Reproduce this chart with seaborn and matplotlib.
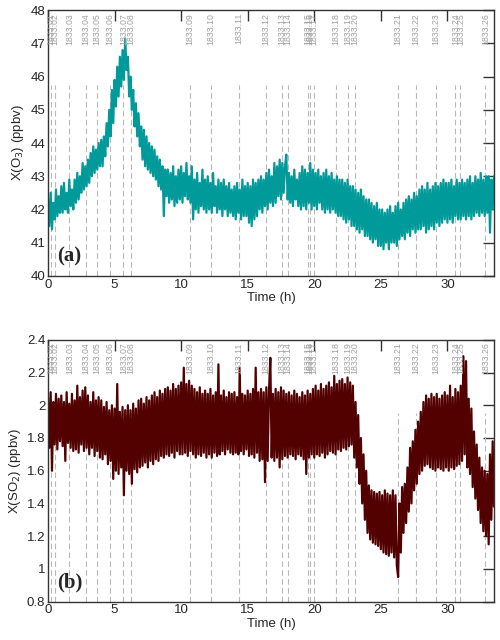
import numpy as np
import pandas as pd
import seaborn as sns
import matplotlib.pyplot as plt
from matplotlib.ticker import FuncFormatter

# O3 (ppbv), one value every 0.1 h
o3 = [
    42.3, 41.5, 42.5, 41.4, 42.2, 41.7, 42.6, 41.8, 42.4, 41.9,
    42.7, 41.9, 42.8, 42.0, 42.5, 41.9, 42.9, 42.1, 42.6, 42.0,
    42.9, 42.2, 43.1, 42.3, 43.0, 42.5, 43.4, 42.6, 43.3, 42.7,
    43.5, 42.8, 43.7, 43.0, 43.9, 43.1, 43.8, 43.2, 44.0, 43.3,
    44.1, 43.3, 44.2, 43.6, 44.6, 43.9, 45.0, 44.2, 45.6, 44.6,
    45.9, 45.1, 46.3, 45.4, 46.6, 45.7, 46.8, 45.9, 47.15, 46.2,
    46.6, 45.4, 46.0, 45.0, 45.6, 44.5, 45.2, 44.2, 44.9, 43.9,
    44.5, 43.5, 44.4, 43.3, 44.2, 43.2, 44.0, 43.1, 43.9, 43.0,
    43.8, 42.9, 43.6, 42.7, 43.5, 42.6, 43.3, 41.8, 43.2, 42.4,
    43.2, 42.2, 43.1, 42.3, 43.3, 42.1, 43.0, 42.2, 43.2, 42.3,
    43.3, 42.2, 43.1, 42.4, 43.4, 42.3, 43.0, 42.2, 43.3, 41.7,
    42.9, 42.0, 43.1, 41.9, 42.8, 42.1, 43.2, 42.0, 42.9, 41.9,
    43.0, 42.0, 42.8, 41.9, 43.1, 42.1, 42.7, 41.9, 42.9, 42.0,
    42.8, 41.8, 42.9, 42.0, 42.7, 41.8, 42.8, 41.9, 42.6, 41.8,
    42.7, 41.7, 42.8, 41.9, 42.6, 41.7, 42.9, 41.8, 42.7, 41.8,
    42.8, 41.6, 42.7, 41.5, 42.9, 41.7, 42.8, 41.8, 42.9, 42.0,
    43.0, 41.9, 42.9, 42.1, 43.1, 42.0, 43.2, 42.2, 43.0, 42.1,
    43.4, 42.2, 43.3, 42.4, 43.5, 42.3, 43.4, 42.5, 43.3, 43.65,
    42.3, 43.1, 42.2, 43.0, 42.1, 43.2, 42.3, 42.9, 42.1, 43.1,
    42.0, 43.3, 42.1, 43.2, 42.0, 43.1, 42.2, 43.4, 42.0, 43.2,
    42.1, 43.1, 42.0, 43.2, 42.2, 43.0, 42.0, 43.1, 41.9, 43.2,
    42.0, 43.0, 41.9, 43.1, 42.0, 42.9, 41.9, 43.0, 41.8, 42.9,
    41.8, 42.9, 41.7, 42.8, 41.6, 42.9, 41.7, 42.7, 41.5, 42.7,
    41.5, 42.6, 41.4, 42.5, 41.3, 42.6, 41.4, 42.4, 41.2, 42.3,
    41.2, 42.3, 41.1, 42.2, 41.0, 42.1, 41.1, 42.2, 40.9, 42.0,
    40.9, 42.0, 40.8, 41.9, 41.0, 42.0, 40.8, 42.1, 41.0, 41.9,
    41.0, 42.1, 40.9, 42.2, 41.1, 42.0, 41.2, 42.2, 41.1, 42.3,
    41.3, 42.4, 41.2, 42.3, 41.4, 42.5, 41.3, 42.4, 41.4, 42.6,
    41.4, 42.7, 41.5, 42.6, 41.3, 42.8, 41.4, 42.6, 41.5, 42.7,
    41.4, 42.8, 41.6, 42.7, 41.5, 42.8, 41.6, 42.9, 41.7, 42.8,
    41.6, 42.8, 41.7, 42.9, 41.6, 42.7, 41.8, 42.9, 41.7, 42.8,
    41.7, 42.9, 41.8, 42.8, 41.7, 42.9, 41.8, 43.0, 41.7, 42.8,
    41.8, 43.0, 41.9, 42.9, 41.8, 43.1, 41.9, 42.9, 41.8, 43.0,
    41.9, 43.0, 41.3, 42.9, 42.0, 43.0,
]

# SO2 (ppbv), one value every 0.1 h
so2 = [
    2.05, 1.74, 2.08, 1.60, 2.02, 1.76, 2.07, 1.73, 2.04, 1.78,
    2.06, 1.75, 2.02, 1.66, 2.08, 1.77, 2.01, 1.74, 2.07, 1.72,
    2.03, 1.73, 2.12, 1.71, 2.05, 1.76, 2.09, 1.72, 2.11, 1.74,
    2.06, 1.70, 2.02, 1.74, 2.08, 1.69, 2.03, 1.72, 2.05, 1.68,
    2.03, 1.67, 1.99, 1.70, 2.02, 1.64, 1.97, 1.66, 2.00, 1.55,
    1.98, 1.60, 2.13, 1.58, 1.96, 1.62, 1.99, 1.45, 1.97, 1.60,
    2.00, 1.58, 1.97, 1.52, 2.01, 1.61, 1.98, 1.59, 2.03, 1.62,
    2.04, 1.63, 2.01, 1.65, 2.05, 1.62, 2.03, 1.66, 2.06, 1.64,
    2.08, 1.67, 2.05, 1.66, 2.09, 1.69, 2.07, 1.68, 2.10, 1.70,
    2.11, 1.69, 2.09, 1.71, 2.13, 1.68, 2.10, 1.72, 2.12, 1.70,
    2.14, 1.70, 2.23, 1.71, 2.13, 1.69, 2.15, 1.72, 2.12, 1.70,
    2.10, 1.68, 2.08, 1.70, 2.11, 1.69, 2.07, 1.71, 2.09, 1.68,
    2.07, 1.70, 2.10, 1.68, 2.06, 1.71, 2.08, 1.69, 2.25, 1.70,
    2.06, 1.72, 2.09, 1.70, 2.05, 1.73, 2.08, 1.71, 2.07, 1.70,
    2.08, 1.71, 2.05, 1.70, 2.23, 1.72, 2.07, 1.70, 2.06, 1.73,
    2.09, 1.69, 2.07, 1.70, 2.10, 1.68, 2.23, 1.71, 2.08, 1.66,
    2.10, 1.67, 2.08, 1.53, 2.11, 1.66, 2.09, 2.29, 1.68, 2.07,
    1.66, 2.10, 1.68, 2.08, 1.62, 2.11, 1.67, 2.09, 1.69, 2.07,
    1.68, 2.08, 1.70, 2.06, 1.69, 2.09, 1.67, 2.07, 1.70, 2.05,
    1.69, 2.08, 1.67, 2.06, 1.58, 2.09, 1.68, 2.07, 1.70, 2.10,
    1.68, 2.12, 1.70, 2.09, 1.69, 2.13, 1.71, 2.10, 1.68, 2.12,
    1.70, 2.14, 1.72, 2.11, 1.71, 2.18, 1.70, 2.13, 1.73, 2.15,
    1.72, 2.16, 1.74, 2.13, 1.73, 2.17, 1.75, 2.14, 1.76, 2.12,
    1.68, 2.02, 1.62, 1.94, 1.52, 1.80, 1.40, 1.70, 1.30, 1.60,
    1.22, 1.51, 1.18, 1.48, 1.16, 1.47, 1.15, 1.46, 1.14, 1.47,
    1.12, 1.45, 1.10, 1.48, 1.09, 1.46, 1.08, 1.45, 1.10, 1.48,
    1.07, 1.45, 1.02, 0.95, 1.40, 1.10, 1.50, 1.22, 1.52, 1.28,
    1.62, 1.35, 1.74, 1.40, 1.78, 1.48, 1.85, 1.52, 1.90, 1.58,
    1.96, 1.60, 2.02, 1.63, 2.06, 1.64, 2.04, 1.62, 2.07, 1.61,
    2.05, 1.60, 2.07, 1.62, 2.04, 1.61, 2.06, 1.60, 2.08, 1.62,
    2.06, 1.60, 2.12, 1.62, 2.05, 1.61, 2.10, 1.63, 2.08, 1.64,
    2.12, 1.66, 2.30, 1.70, 2.27, 1.62, 2.04, 1.58, 1.98, 1.50,
    1.84, 1.43, 1.76, 1.36, 1.68, 1.28, 1.62, 1.23, 1.60, 1.20,
    1.58, 1.15, 1.70, 1.30, 1.78, 1.38,
]

# flight / run markers (hours)
event_labels = ["1833.%02d" % i for i in range(1, 27)]
event_times = [0.23, 0.53, 1.6, 2.86, 3.66, 4.66, 5.66, 6.22, 10.68, 12.23,
               14.36, 16.37, 17.56, 18.0, 19.5, 19.65, 19.95, 21.63, 22.53,
               23.08, 26.29, 27.65, 29.12, 30.6, 30.98, 32.86]

dt = 0.1
df = pd.DataFrame({"time": np.arange(len(o3)) * dt, "o3": o3, "so2": so2})

sns.set_theme(style="white")
plt.rcParams["font.family"] = ["Liberation Sans", "DejaVu Sans"]

fig = plt.figure(figsize=(5, 6.4), dpi=100)
ax1 = fig.add_axes([0.096, 0.569, 0.892, 0.415])
ax2 = fig.add_axes([0.096, 0.060, 0.892, 0.409])

panels = [
    (ax1, "o3", "#009a9a", (40, 48), np.arange(40, 48.5, 1), "X(O$_3$) (ppbv)", "(a)"),
    (ax2, "so2", "#520000", (0.8, 2.4), np.arange(0.8, 2.45, 0.2), "X(SO$_2$) (ppbv)", "(b)"),
]

for ax, col, color, ylim, yt, ylab, tag in panels:
    for x, lab in zip(event_times, event_labels):
        ax.axvline(x, ymin=0, ymax=0.72, color="#b8b8b8", lw=0.8,
                   ls=(0, (5, 3)), zorder=1)
        ax.text(x, 0.99, lab, transform=ax.get_xaxis_transform(), rotation=90,
                ha="center", va="top", fontsize=6.3, color="#a0a0a0")
    sns.lineplot(data=df, x="time", y=col, ax=ax, color=color, lw=1.6,
                 estimator=None, zorder=2)
    ax.set_xlim(0, 33.5)
    ax.set_ylim(*ylim)
    ax.set_xticks([0, 5, 10, 15, 20, 25, 30])
    ax.set_yticks(yt)
    ax.yaxis.set_major_formatter(FuncFormatter(lambda v, p: "%g" % round(v, 2)))
    ax.tick_params(direction="in", length=8, width=1, top=True, right=True,
                   labelsize=9.5, color="#333333", pad=2)
    for s in ax.spines.values():
        s.set_color("#333333")
        s.set_linewidth(1.0)
    ax.set_xlabel("Time (h)", fontsize=9.5, labelpad=1)
    ax.set_ylabel(ylab, fontsize=9.5, labelpad=3)
    ax.text(0.02, 0.035, tag, transform=ax.transAxes, ha="left", va="bottom",
            fontsize=15, fontweight="bold", family="Liberation Serif")

fig.savefig("out.png", dpi=100)
